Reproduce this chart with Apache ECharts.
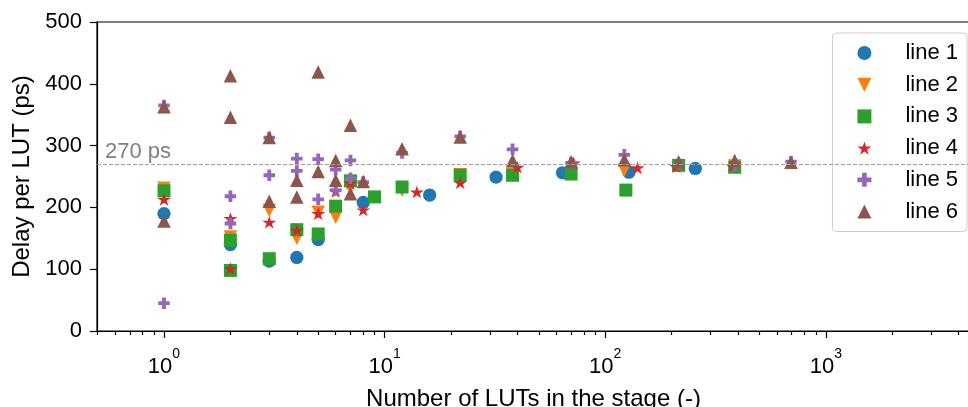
<!DOCTYPE html>
<html><head><meta charset="utf-8">
<script src="https://cdn.jsdelivr.net/npm/echarts@6/dist/echarts.min.js"></script>
<style>html,body{margin:0;padding:0;background:#fff}#c{width:968px;height:407px}</style>
</head><body><div id="c"></div>
<script>
// ---- data ----
const seriesNames = ['line 1', 'line 2', 'line 3', 'line 4', 'line 5', 'line 6'];
const line1X = [1, 2, 3, 4, 5, 8, 16, 32, 64, 128, 256];
const line1Y = [190, 140, 113, 119, 148, 208, 220, 249, 256, 257, 263];
const line2X = [1, 2, 3, 4, 5, 6, 7, 12, 22, 38, 122, 386];
const line2Y = [231, 152, 195, 150, 192, 184, 232, 228, 253, 254, 260, 267];
const line3X = [1, 2, 2, 3, 4, 5, 6, 7, 9, 12, 22, 38, 70, 124, 215, 386];
const line3Y = [227, 147, 98, 117, 164, 157, 202, 243, 217, 233, 252, 252, 254, 228, 268, 265];
const line4X = [1, 2, 2, 3, 4, 5, 6, 7, 8, 14, 22, 40, 72, 140, 210, 378];
const line4Y = [213, 182, 101, 176, 163, 190, 226, 239, 196, 225, 240, 265, 272, 264, 266, 267];
const line5X = [1, 1, 2, 2, 3, 3, 4, 4, 5, 5, 6, 6, 7, 7, 8, 12, 22, 38, 70, 122, 215, 386, 695];
const line5Y = [45, 365, 218, 174, 252, 313, 279, 259, 278, 213, 261, 228, 276, 247, 241, 288, 315, 294, 272, 285, 270, 268, 274];
const line6X = [1, 1, 2, 2, 3, 3, 4, 4, 5, 5, 6, 6, 7, 7, 8, 12, 22, 38, 70, 122, 215, 386, 695];
const line6Y = [363, 178, 413, 346, 313, 210, 244, 217, 419, 258, 276, 244, 333, 222, 242, 295, 314, 276, 274, 277, 274, 276, 273];
const xMajorTicks = [1, 10, 100, 1000];
const xMinorTicks = [0.5, 0.6, 0.7, 0.8, 0.9, 2, 3, 4, 5, 6, 7, 8, 9, 20, 30, 40, 50, 60, 70, 80, 90,
  200, 300, 400, 500, 600, 700, 800, 900, 2000, 3000, 4000];
const xRange = [0.497, 4500];
const yRange = [0, 500];
const yStep = 100;
const refValue = 270;
const refLabel = '270 ps';
const xTitle = 'Number of LUTs in the stage (-)';
const yTitle = 'Delay per LUT (ps)';

// ---- styles ----
const FONT = '"Liberation Sans", Arial, sans-serif';
const colors = ['#1f77b4', '#ff7f0e', '#2ca02c', '#d62728', '#9467bd', '#8c564b'];
function starPath() {
  let p = [];
  for (let i = 0; i < 10; i++) {
    const r = i % 2 === 0 ? 1 : 0.381966;
    const a = (-90 + 36 * i) * Math.PI / 180;
    p.push((r * Math.cos(a)).toFixed(4) + ',' + (r * Math.sin(a)).toFixed(4));
  }
  return 'path://M' + p.join('L') + 'Z';
}
const plusPath = 'path://M-1,-3L1,-3L1,-1L3,-1L3,1L1,1L1,3L-1,3L-1,1L-3,1L-3,-1L-1,-1Z';
const downTriPath = 'path://M-1,-1L1,-1L0,1Z';
function pts(xs, ys) { return xs.map((x, i) => [x, ys[i]]); }

const chart = echarts.init(document.getElementById('c'), null, {renderer: 'canvas'});
const axisLineStyle = {color: '#000', width: 1.2};
function sty(i) { return {color: colors[i], opacity: 1}; }
const option = {
  animation: false,
  backgroundColor: '#fff',
  grid: {left: 97, right: -2, top: 22, bottom: 76, show: true, borderColor: '#000', borderWidth: 1.2,
    containLabel: false, outerBoundsMode: 'none'},
  legend: {
    orient: 'vertical', right: 1, top: 33, padding: [9, 9, 9, 25], itemGap: 9.7,
    itemWidth: 14, itemHeight: 14, selectedMode: false,
    backgroundColor: 'rgba(255,255,255,0.8)', borderColor: '#cccccc', borderWidth: 1, borderRadius: 4,
    textStyle: {fontSize: 22, color: '#000', fontFamily: FONT, padding: [0, 0, 0, 29]},
    data: seriesNames
  },
  xAxis: [{
    type: 'log', logBase: 10, min: xRange[0], max: xRange[1],
    name: xTitle, nameLocation: 'middle', nameGap: 56,
    nameTextStyle: {fontSize: 24, color: '#000', fontFamily: FONT},
    axisLine: {show: true, lineStyle: axisLineStyle},
    axisTick: {show: true, inside: false, length: 7, lineStyle: axisLineStyle, customValues: xMajorTicks},
    axisLabel: {
      customValues: xMajorTicks, margin: 25, color: '#000',
      formatter: function (v) {
        const e = Math.round(Math.log10(v));
        return '{b|10}{s|' + e + '}';
      },
      rich: {
        b: {fontSize: 22, lineHeight: 22, fontFamily: FONT, color: '#000', verticalAlign: 'bottom'},
        s: {fontSize: 14, lineHeight: 14, fontFamily: FONT, color: '#000', verticalAlign: 'bottom', padding: [0, 0, 17, 0]}
      }
    },
    splitLine: {show: false}, minorTick: {show: false}
  }, {
    type: 'log', logBase: 10, min: xRange[0], max: xRange[1], position: 'bottom', gridIndex: 0,
    axisLine: {show: false},
    axisTick: {show: true, inside: false, length: 4, lineStyle: axisLineStyle, customValues: xMinorTicks},
    axisLabel: {show: false}, splitLine: {show: false}
  }],
  yAxis: {
    type: 'value', min: yRange[0], max: yRange[1], interval: yStep,
    name: yTitle, nameLocation: 'middle', nameGap: 62,
    nameTextStyle: {fontSize: 24, color: '#000', fontFamily: FONT},
    axisLine: {show: true, lineStyle: axisLineStyle},
    axisTick: {show: true, inside: false, length: 7, lineStyle: axisLineStyle},
    axisLabel: {fontSize: 22, color: '#000', margin: 15, fontFamily: FONT},
    splitLine: {show: false}
  },
  series: [
    {name: seriesNames[0], type: 'scatter', data: pts(line1X, line1Y), symbol: 'circle', symbolSize: 13.3,
      itemStyle: sty(0),
      markLine: {
        silent: true, symbol: ['none', 'none'], data: [{yAxis: refValue}],
        lineStyle: {color: '#a0a0a0', width: 1.2, type: [4, 2], opacity: 1},
        label: {show: true, position: 'insideStartTop', formatter: refLabel, color: '#808080',
          fontSize: 22, fontFamily: FONT, distance: [8, 1]}
      }},
    {name: seriesNames[1], type: 'scatter', data: pts(line2X, line2Y), symbol: downTriPath,
      symbolSize: 13.5, itemStyle: sty(1)},
    {name: seriesNames[2], type: 'scatter', data: pts(line3X, line3Y), symbol: 'rect', symbolSize: 13,
      itemStyle: sty(2)},
    {name: seriesNames[3], type: 'scatter', data: pts(line4X, line4Y), symbol: starPath(), symbolKeepAspect: true,
      symbolSize: [14, 13.3], itemStyle: sty(3)},
    {name: seriesNames[4], type: 'scatter', data: pts(line5X, line5Y), symbol: plusPath, symbolSize: 11.5,
      itemStyle: sty(4)},
    {name: seriesNames[5], type: 'scatter', data: pts(line6X, line6Y), symbol: 'triangle', symbolSize: 13.5,
      itemStyle: sty(5)}
  ]
};
chart.setOption(option);
</script>
</body></html>
